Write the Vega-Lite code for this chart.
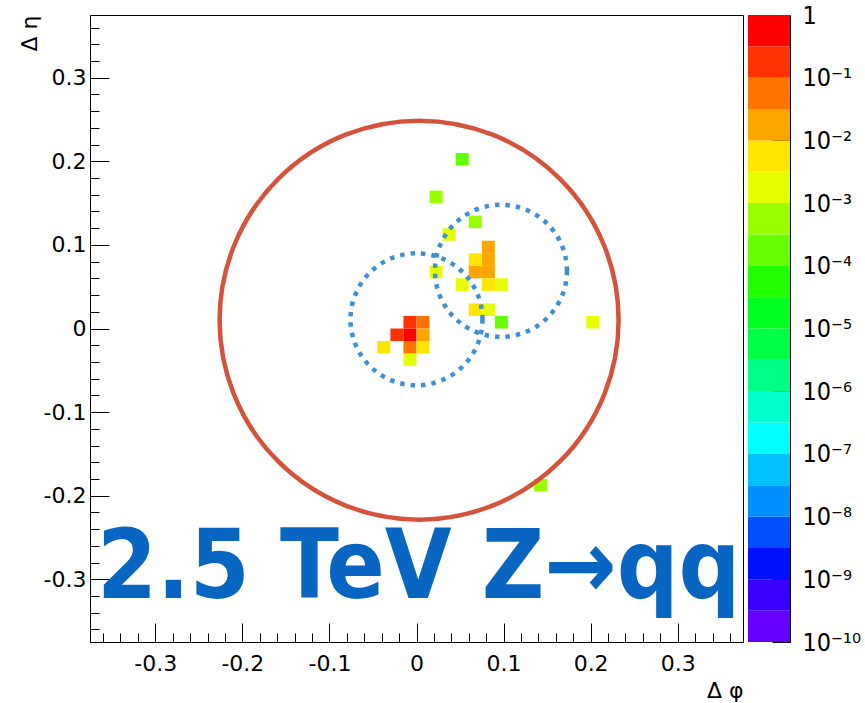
{
  "$schema": "https://vega.github.io/schema/vega-lite/v6.json",
  "background": "white",
  "padding": {"left": 17, "top": 3, "right": 0, "bottom": 0},
  "spacing": 5,
  "bounds": "flush",
  "config": {
    "view": {"stroke": null},
    "axis": {"grid": false, "labelFont": "DejaVu Sans", "titleFont": "DejaVu Sans", "labelColor": "black", "titleColor": "black", "domainColor": "black", "tickColor": "black", "titleFontWeight": "normal", "labelOverlap": false, "labelBound": false, "labelFlush": false, "tickCount": 1000}
  },
  "hconcat": [
    {
      "width": 653,
      "height": 627,
      "view": {"stroke": "black", "strokeWidth": 1},
      "layer": [
        {
          "data": {"values": [
            {"x1": 0.045, "x2": 0.06, "y1": 0.195, "y2": 0.21, "v": 0.00018},
            {"x1": 0.015, "x2": 0.03, "y1": 0.15, "y2": 0.165, "v": 0.00056},
            {"x1": 0.06, "x2": 0.075, "y1": 0.12, "y2": 0.135, "v": 0.00056},
            {"x1": 0.03, "x2": 0.045, "y1": 0.105, "y2": 0.12, "v": 0.0018},
            {"x1": 0.075, "x2": 0.09, "y1": 0.09, "y2": 0.105, "v": 0.018},
            {"x1": 0.075, "x2": 0.09, "y1": 0.075, "y2": 0.09, "v": 0.018},
            {"x1": 0.075, "x2": 0.09, "y1": 0.06, "y2": 0.075, "v": 0.018},
            {"x1": 0.06, "x2": 0.075, "y1": 0.075, "y2": 0.09, "v": 0.0056},
            {"x1": 0.06, "x2": 0.075, "y1": 0.06, "y2": 0.075, "v": 0.018},
            {"x1": 0.015, "x2": 0.03, "y1": 0.06, "y2": 0.075, "v": 0.0018},
            {"x1": 0.045, "x2": 0.06, "y1": 0.045, "y2": 0.06, "v": 0.0018},
            {"x1": 0.075, "x2": 0.09, "y1": 0.045, "y2": 0.06, "v": 0.0056},
            {"x1": 0.09, "x2": 0.105, "y1": 0.045, "y2": 0.06, "v": 0.0018},
            {"x1": 0.06, "x2": 0.075, "y1": 0.015, "y2": 0.03, "v": 0.0056},
            {"x1": 0.075, "x2": 0.09, "y1": 0.015, "y2": 0.03, "v": 0.0018},
            {"x1": 0.09, "x2": 0.105, "y1": 0, "y2": 0.015, "v": 0.00018},
            {"x1": 0.195, "x2": 0.21, "y1": 0, "y2": 0.015, "v": 0.0018},
            {"x1": -0.015, "x2": 0, "y1": 0, "y2": 0.015, "v": 0.178},
            {"x1": 0, "x2": 0.015, "y1": 0, "y2": 0.015, "v": 0.056},
            {"x1": -0.03, "x2": -0.015, "y1": -0.015, "y2": 0, "v": 0.178},
            {"x1": -0.015, "x2": 0, "y1": -0.015, "y2": 0, "v": 0.56},
            {"x1": 0, "x2": 0.015, "y1": -0.015, "y2": 0, "v": 0.018},
            {"x1": -0.045, "x2": -0.03, "y1": -0.03, "y2": -0.015, "v": 0.0056},
            {"x1": -0.015, "x2": 0, "y1": -0.03, "y2": -0.015, "v": 0.056},
            {"x1": 0, "x2": 0.015, "y1": -0.03, "y2": -0.015, "v": 0.0056},
            {"x1": -0.015, "x2": 0, "y1": -0.045, "y2": -0.03, "v": 0.0018},
            {"x1": 0.135, "x2": 0.15, "y1": -0.195, "y2": -0.18, "v": 0.00056}
          ]},
          "mark": {"type": "rect"},
          "encoding": {
            "x": {
              "field": "x1", "type": "quantitative",
              "scale": {"domain": [-0.375, 0.375], "nice": false, "zero": false},
              "axis": {
                "title": "Δ φ", "titleAnchor": "end", "titleFontSize": 22, "titlePadding": -4,
                "tickCount": 1000,
                "values": [-0.36,-0.34,-0.32,-0.3,-0.28,-0.26,-0.24,-0.22,-0.2,-0.18,-0.16,-0.14,-0.12,-0.1,-0.08,-0.06,-0.04,-0.02,0,0.02,0.04,0.06,0.08,0.1,0.12,0.14,0.16,0.18,0.2,0.22,0.24,0.26,0.28,0.3,0.32,0.34,0.36],
                "tickSize": {"condition": {"test": "abs(datum.value*10 - round(datum.value*10)) < 0.001", "value": -19}, "value": -9},
                "labelExpr": "abs(datum.value*10 - round(datum.value*10)) < 0.001 ? (abs(datum.value) < 0.001 ? '0' : (datum.value < 0 ? '-' : '') + format(abs(datum.value), '.1f')) : ''",
                "labelPadding": 30, "labelFontSize": 22, "tickWidth": 1, "domainWidth": 1
              }
            },
            "x2": {"field": "x2"},
            "y": {
              "field": "y1", "type": "quantitative",
              "scale": {"domain": [-0.375, 0.375], "nice": false, "zero": false},
              "axis": {
                "title": "Δ η", "titleAnchor": "end", "titleFontSize": 22, "titlePadding": 2,
                "tickCount": 1000,
                "values": [-0.36,-0.34,-0.32,-0.3,-0.28,-0.26,-0.24,-0.22,-0.2,-0.18,-0.16,-0.14,-0.12,-0.1,-0.08,-0.06,-0.04,-0.02,0,0.02,0.04,0.06,0.08,0.1,0.12,0.14,0.16,0.18,0.2,0.22,0.24,0.26,0.28,0.3,0.32,0.34,0.36],
                "tickSize": {"condition": {"test": "abs(datum.value*10 - round(datum.value*10)) < 0.001", "value": -19}, "value": -9},
                "labelExpr": "abs(datum.value*10 - round(datum.value*10)) < 0.001 ? (abs(datum.value) < 0.001 ? '0' : (datum.value < 0 ? '-' : '') + format(abs(datum.value), '.1f')) : ''",
                "labelPadding": 23, "labelFontSize": 22, "tickWidth": 1, "domainWidth": 1
              }
            },
            "y2": {"field": "y2"},
            "color": {
              "field": "v", "type": "quantitative",
              "scale": {"type": "threshold",
                "domain": [3.16e-10, 1e-9, 3.16e-9, 1e-8, 3.16e-8, 1e-7, 3.16e-7, 1e-6, 3.16e-6, 1e-5, 3.16e-5, 1e-4, 3.16e-4, 1e-3, 3.16e-3, 1e-2, 3.16e-2, 0.1, 0.316],
                "range": ["#6600ff", "#3a00ff", "#0010ff", "#0050ff", "#0090ff", "#00c0ff", "#00ffff", "#00ffcc", "#00ff88", "#00ff44", "#00ff22", "#22ff00", "#66ff00", "#99ff00", "#e6ff00", "#ffe600", "#ffa500", "#ff7300", "#ff3300", "#ff0000"]},
              "legend": null
            }
          }
        },
        {
          "data": {"values": [{"cx": 0.003, "cy": 0.01}]},
          "mark": {"type": "point", "shape": "circle", "filled": false, "size": 159201, "color": "#d5533a", "strokeWidth": 4.5, "opacity": 1},
          "encoding": {
            "x": {"field": "cx", "type": "quantitative"},
            "y": {"field": "cy", "type": "quantitative"}
          }
        },
        {
          "data": {"values": [{"cx": 0, "cy": 0.011}, {"cx": 0.097, "cy": 0.069}]},
          "mark": {"type": "point", "shape": "circle", "filled": false, "size": 17424, "color": "#3f8fd5", "strokeWidth": 4.5, "strokeDash": [4.5, 6], "opacity": 1},
          "encoding": {
            "x": {"field": "cx", "type": "quantitative"},
            "y": {"field": "cy", "type": "quantitative"}
          }
        },
        {
          "data": {"values": [{"label": "2.5 TeV Z→qq"}]},
          "mark": {"type": "text", "font": "DejaVu Sans Condensed", "fontWeight": "bold", "fontSize": 96, "color": "#0866c2", "align": "left", "baseline": "alphabetic"},
          "encoding": {
            "x": {"datum": -0.367},
            "y": {"datum": -0.322},
            "text": {"field": "label"}
          }
        }
      ]
    },
    {
      "width": 42,
      "height": 627,
      "data": {"values": [
        {"lo": 1e-10, "hi": 3.1623e-10},
        {"lo": 3.1623e-10, "hi": 1e-9},
        {"lo": 1e-9, "hi": 3.1623e-9},
        {"lo": 3.1623e-9, "hi": 1e-8},
        {"lo": 1e-8, "hi": 3.1623e-8},
        {"lo": 3.1623e-8, "hi": 1e-7},
        {"lo": 1e-7, "hi": 3.1623e-7},
        {"lo": 3.1623e-7, "hi": 1e-6},
        {"lo": 1e-6, "hi": 3.1623e-6},
        {"lo": 3.1623e-6, "hi": 1e-5},
        {"lo": 1e-5, "hi": 3.1623e-5},
        {"lo": 3.1623e-5, "hi": 1e-4},
        {"lo": 1e-4, "hi": 3.1623e-4},
        {"lo": 3.1623e-4, "hi": 1e-3},
        {"lo": 1e-3, "hi": 3.1623e-3},
        {"lo": 3.1623e-3, "hi": 1e-2},
        {"lo": 1e-2, "hi": 3.1623e-2},
        {"lo": 3.1623e-2, "hi": 0.1},
        {"lo": 0.1, "hi": 0.31623},
        {"lo": 0.31623, "hi": 1}
      ]},
      "mark": {"type": "rect"},
      "encoding": {
        "y": {
          "field": "lo", "type": "quantitative",
          "scale": {"type": "log", "domain": [1e-10, 1], "nice": false},
          "axis": {
            "orient": "right", "title": null, "tickCount": 1000,
            "values": [1e-10,2e-10,3e-10,4e-10,5e-10,6e-10,7e-10,8e-10,9e-10,1e-9,2e-9,3e-9,4e-9,5e-9,6e-9,7e-9,8e-9,9e-9,1e-8,2e-8,3e-8,4e-8,5e-8,6e-8,7e-8,8e-8,9e-8,1e-7,2e-7,3e-7,4e-7,5e-7,6e-7,7e-7,8e-7,9e-7,1e-6,2e-6,3e-6,4e-6,5e-6,6e-6,7e-6,8e-6,9e-6,1e-5,2e-5,3e-5,4e-5,5e-5,6e-5,7e-5,8e-5,9e-5,1e-4,2e-4,3e-4,4e-4,5e-4,6e-4,7e-4,8e-4,9e-4,1e-3,2e-3,3e-3,4e-3,5e-3,6e-3,7e-3,8e-3,9e-3,0.01,0.02,0.03,0.04,0.05,0.06,0.07,0.08,0.09,0.1,0.2,0.3,0.4,0.5,0.6,0.7,0.8,0.9,1],
            "tickSize": {"condition": {"test": "abs(log(datum.value)/LN10 - round(log(datum.value)/LN10)) < 0.000001", "value": -18}, "value": -8},
            "labelExpr": "abs(log(datum.value)/LN10 - round(log(datum.value)/LN10)) > 0.000001 ? '' : (round(log(datum.value)/LN10) == 0 ? '1' : '10⁻' + ['', '¹', '²', '³', '⁴', '⁵', '⁶', '⁷', '⁸', '⁹', '¹⁰'][-round(log(datum.value)/LN10)])",
            "labelPadding": 30, "labelFontSize": 25, "labelFont": "DejaVu Sans Condensed", "labelAlign": "left", "labelBaseline": "middle",
            "tickWidth": 1, "domainWidth": 1
          }
        },
        "y2": {"field": "hi"},
        "color": {
          "field": "lo", "type": "quantitative",
          "scale": {"type": "threshold",
            "domain": [3.16e-10, 1e-9, 3.16e-9, 1e-8, 3.16e-8, 1e-7, 3.16e-7, 1e-6, 3.16e-6, 1e-5, 3.16e-5, 1e-4, 3.16e-4, 1e-3, 3.16e-3, 1e-2, 3.16e-2, 0.1, 0.316],
            "range": ["#6600ff", "#3a00ff", "#0010ff", "#0050ff", "#0090ff", "#00c0ff", "#00ffff", "#00ffcc", "#00ff88", "#00ff44", "#00ff22", "#22ff00", "#66ff00", "#99ff00", "#e6ff00", "#ffe600", "#ffa500", "#ff7300", "#ff3300", "#ff0000"]},
          "legend": null
        }
      }
    }
  ]
}
